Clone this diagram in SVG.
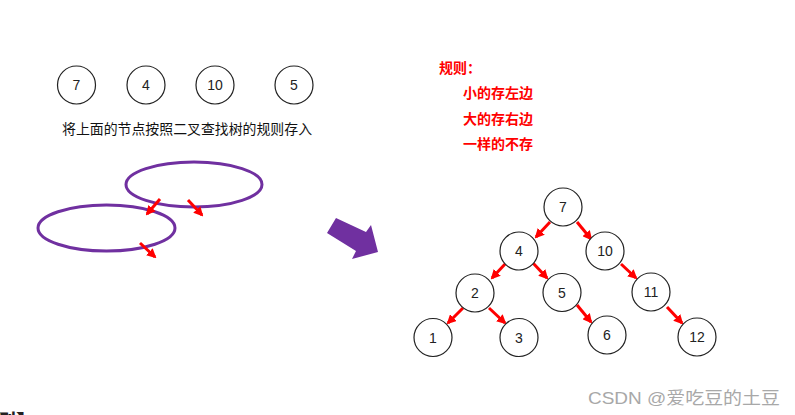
<svg xmlns="http://www.w3.org/2000/svg" width="795" height="415" viewBox="0 0 795 415">
<defs>
<style>
.n circle{fill:#fff;stroke:#222;stroke-width:1.2}
.n text{font-family:"Liberation Sans","Noto Sans CJK SC",sans-serif;font-size:14px;fill:#222;text-anchor:middle;dominant-baseline:central}
.e{stroke:#ff0000;stroke-width:3;fill:none;marker-end:url(#ah)}
.rule{font-family:"Noto Sans CJK SC",sans-serif;font-size:14px;font-weight:bold;fill:#ff0000}
.ell{fill:none;stroke:#7030a0;stroke-width:3}
</style>
<marker id="ah" viewBox="0 0 10 10" refX="8" refY="5" markerWidth="3.2" markerHeight="3.2" orient="auto" markerUnits="strokeWidth">
<path d="M0,0 L10,5 L0,10 z" fill="#ff0000"/>
</marker>
</defs>
<rect width="795" height="415" fill="#fff"/>

<g id="top-nodes">
<g id="t7" class="n"><circle cx="76.5" cy="85" r="19"/><text x="76.5" y="85">7</text></g>
<g id="t4" class="n"><circle cx="146" cy="85" r="19"/><text x="146" y="85">4</text></g>
<g id="t10" class="n"><circle cx="215" cy="85" r="19"/><text x="215" y="85">10</text></g>
<g id="t5" class="n"><circle cx="294" cy="85" r="19"/><text x="294" y="85">5</text></g>
</g>
<text x="62" y="134" font-family="'Noto Sans CJK SC',sans-serif" font-size="13.9" fill="#111">将上面的节点按照二叉查找树的规则存入</text>

<g id="ellipses">
<ellipse class="ell" cx="194" cy="184.5" rx="68" ry="22.5"/>
<ellipse class="ell" cx="106.5" cy="228" rx="68.5" ry="23"/>
<line class="e" x1="160" y1="199" x2="147" y2="214"/>
<line class="e" x1="188" y1="200" x2="202" y2="215"/>
<line class="e" x1="140" y1="243" x2="155" y2="257"/>
</g>

<polygon id="big-arrow" points="327,233 336,218 366,232 371,225 378,252 352,259 356,251" fill="#7030a0"/>

<g id="rules">
<text class="rule" x="439" y="73">规则：</text>
<text class="rule" x="463" y="98">小的存左边</text>
<text class="rule" x="463" y="124">大的存右边</text>
<text class="rule" x="463" y="149">一样的不存</text>
</g>

<g id="connectors">
<line class="e" x1="550" y1="222" x2="536" y2="237"/>
<line class="e" x1="577" y1="222" x2="591" y2="239"/>
<line class="e" x1="506" y1="263" x2="492" y2="278"/>
<line class="e" x1="533" y1="263" x2="547" y2="278"/>
<line class="e" x1="621" y1="264" x2="636" y2="278"/>
<line class="e" x1="463" y1="308" x2="448" y2="323"/>
<line class="e" x1="489" y1="308" x2="505" y2="323"/>
<line class="e" x1="577" y1="305" x2="591" y2="322"/>
<line class="e" x1="667" y1="307" x2="682" y2="323"/>
</g>

<g id="n7" class="n"><circle cx="563" cy="207" r="19"/><text x="563" y="207">7</text></g>
<g id="n4" class="n"><circle cx="519" cy="251" r="19"/><text x="519" y="251">4</text></g>
<g id="n10" class="n"><circle cx="605" cy="251" r="19"/><text x="605" y="251">10</text></g>
<g id="n2" class="n"><circle cx="475" cy="293" r="19"/><text x="475" y="293">2</text></g>
<g id="n5" class="n"><circle cx="562" cy="292.5" r="19"/><text x="562" y="292.5">5</text></g>
<g id="n11" class="n"><circle cx="651" cy="292" r="19"/><text x="651" y="292">11</text></g>
<g id="n1" class="n"><circle cx="433" cy="337.5" r="19"/><text x="433" y="337.5">1</text></g>
<g id="n3" class="n"><circle cx="519" cy="337.5" r="19"/><text x="519" y="337.5">3</text></g>
<g id="n6" class="n"><circle cx="607" cy="335" r="19"/><text x="607" y="335">6</text></g>
<g id="n12" class="n"><circle cx="697" cy="337" r="19"/><text x="697" y="337">12</text></g>

<text x="588" y="404" font-family="'Liberation Sans','Noto Sans CJK SC',sans-serif" font-size="17" fill="#a8a8a8" textLength="192" lengthAdjust="spacingAndGlyphs">CSDN @爱吃豆的土豆</text>
<text x="-6" y="430" font-family="'Noto Sans CJK SC',sans-serif" font-size="22" font-weight="bold" fill="#222">例】</text>
</svg>
